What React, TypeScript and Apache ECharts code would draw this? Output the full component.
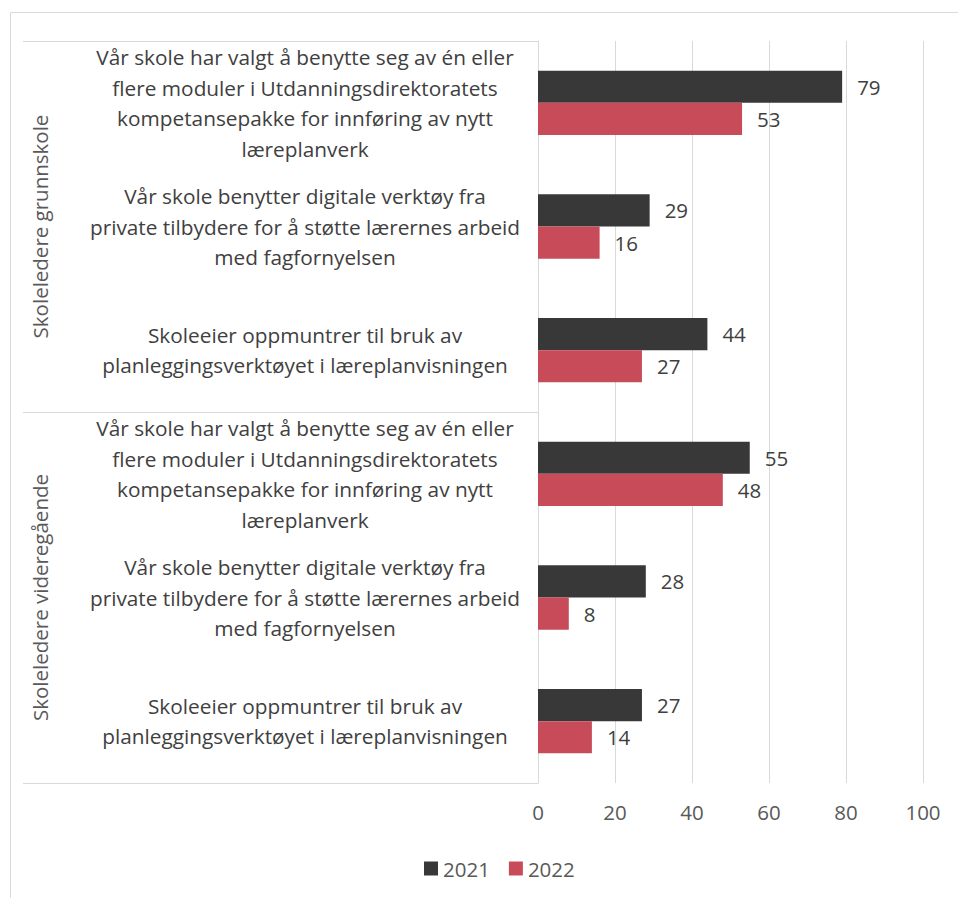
import React, { useEffect, useRef } from "react";
import * as echarts from "echarts";

const groups = ["Skoleledere grunnskole", "Skoleledere videregående"];
const categories = [
  "Vår skole har valgt å benytte seg av én eller\nflere moduler i Utdanningsdirektoratets\nkompetansepakke for innføring av nytt\nlæreplanverk",
  "Vår skole benytter digitale verktøy fra\nprivate tilbydere for å støtte lærernes arbeid\nmed fagfornyelsen",
  "Skoleeier oppmuntrer til bruk av\nplanleggingsverktøyet i læreplanvisningen",
  "Vår skole har valgt å benytte seg av én eller\nflere moduler i Utdanningsdirektoratets\nkompetansepakke for innføring av nytt\nlæreplanverk",
  "Vår skole benytter digitale verktøy fra\nprivate tilbydere for å støtte lærernes arbeid\nmed fagfornyelsen",
  "Skoleeier oppmuntrer til bruk av\nplanleggingsverktøyet i læreplanvisningen",
];
const values2021 = [79, 29, 44, 55, 28, 27];
const values2022 = [53, 16, 27, 48, 8, 14];
const xTicks = [0, 20, 40, 60, 80, 100];

const FONT = "'Open Sans', 'Noto Sans', sans-serif";

export default function App() {
  const ref = useRef<HTMLDivElement>(null);
  useEffect(() => {
    if (!ref.current) return;
    const chart = echarts.init(ref.current, undefined, { renderer: "svg" });
    const labelCfg = {
      show: true,
      position: "right",
      distance: 15,
      fontSize: 20.5,
      color: "#404040",
      fontFamily: FONT,
    };
    chart.setOption({
      animation: false,
      backgroundColor: "#ffffff",
      textStyle: { fontFamily: FONT },
      graphic: [
        {
          type: "rect",
          shape: { x: 10.5, y: 12.5, width: 1000, height: 1000 },
          style: { fill: "none", stroke: "#d9d9d9", lineWidth: 1 },
          silent: true,
        },
      ],
      legend: {
        left: 419,
        top: 853,
        itemWidth: 14,
        itemHeight: 14,
        itemGap: 19,
        icon: "rect",
        textStyle: { fontSize: 20.5, color: "#595959", fontFamily: FONT },
        data: ["2021", "2022"],
      },
      grid: { left: 538, right: 35, top: 41, bottom: 115, containLabel: false },
      xAxis: {
        type: "value",
        min: xTicks[0],
        max: xTicks[xTicks.length - 1],
        interval: 20,
        axisLine: { show: false },
        axisTick: { show: false },
        splitLine: { lineStyle: { color: "#d9d9d9", width: 1 } },
        axisLabel: { fontSize: 20.5, color: "#595959", margin: 18, fontFamily: FONT },
      },
      yAxis: [
        {
          type: "category",
          inverse: true,
          data: categories,
          position: "left",
          axisLine: { show: false },
          axisTick: { show: false },
          axisLabel: {
            interval: 0,
            align: "center",
            margin: 233,
            fontSize: 20.8,
            lineHeight: 30.5,
            color: "#404040",
            fontFamily: FONT,
          },
        },
        {
          type: "category",
          inverse: true,
          data: groups,
          position: "left",
          offset: 0,
          axisLine: { show: true, lineStyle: { color: "#d9d9d9", width: 1 } },
          axisTick: { show: true, length: 515, lineStyle: { color: "#d9d9d9", width: 1 } },
          axisLabel: {
            interval: 0,
            rotate: 90,
            margin: 488,
            fontSize: 20.5,
            color: "#595959",
            fontFamily: FONT,
          },
        },
      ],
      series: [
        {
          name: "2021",
          type: "bar",
          yAxisIndex: 0,
          data: values2021,
          barGap: "0%",
          barCategoryGap: "48%",
          itemStyle: { color: "#383838" },
          label: labelCfg,
        },
        {
          name: "2022",
          type: "bar",
          yAxisIndex: 0,
          data: values2022,
          barGap: "0%",
          barCategoryGap: "48%",
          itemStyle: { color: "#c84b5a" },
          label: labelCfg,
        },
      ],
    });
    return () => chart.dispose();
  }, []);
  return (
    <div
      ref={ref}
      style={{ position: "fixed", left: 0, top: 0, width: 958, height: 898 }}
    />
  );
}
